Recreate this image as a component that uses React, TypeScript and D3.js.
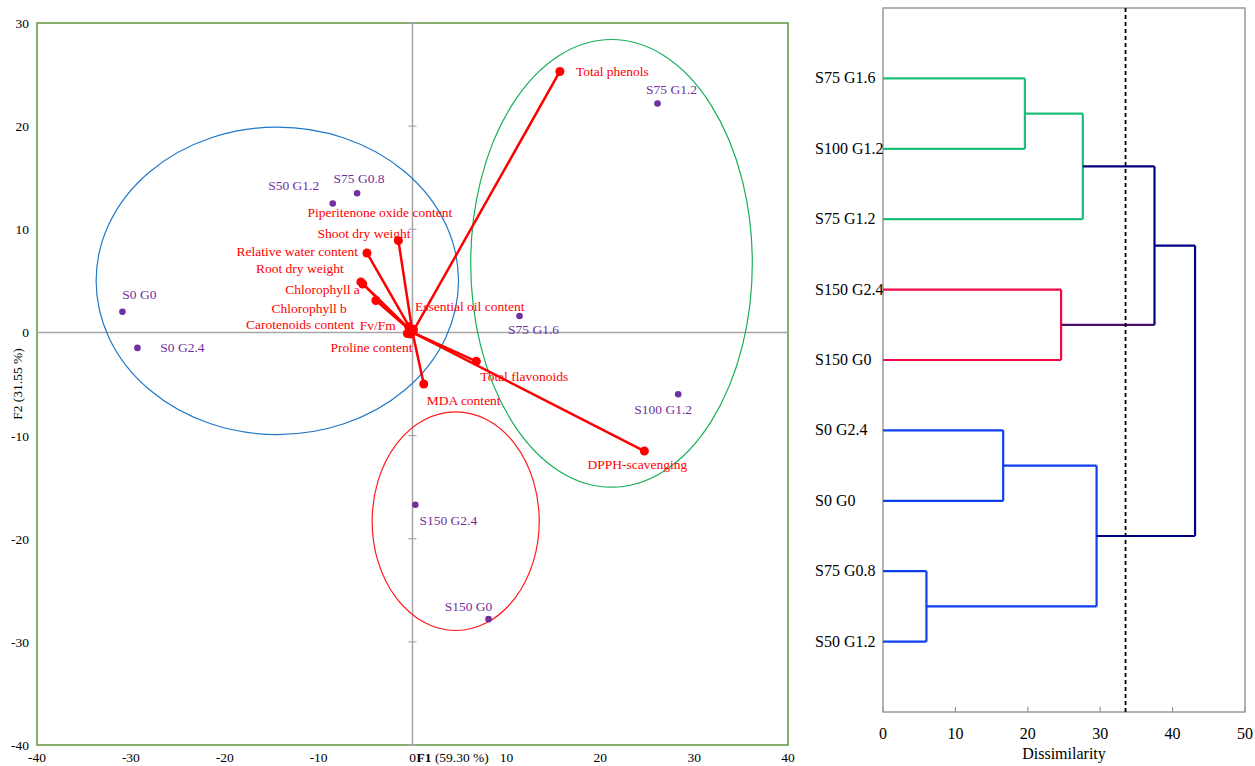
import React from "react";
import * as d3 from "d3";

// ---- Biplot data (F1 / F2 scores) ----
const obsNames = ["S75 G1.2", "S50 G1.2", "S75 G0.8", "S0 G0", "S0 G2.4", "S75 G1.6", "S100 G1.2", "S150 G2.4", "S150 G0"];
const obsF1 = [26.1, -8.5, -5.9, -30.9, -29.3, 11.4, 28.3, 0.3, 8.1];
const obsF2 = [22.2, 12.5, 13.5, 2.0, -1.5, 1.6, -6.0, -16.7, -27.8];

const varNames = [
  "Total phenols", "DPPH-scavenging", "Total flavonoids", "MDA content", "Shoot dry weight",
  "Relative water content", "Root dry weight", "Chlorophyll a", "Chlorophyll b",
  "Carotenoids content", "Fv/Fm", "Proline content", "Essential oil content", "Piperitenone oxide content",
];
const varF1 = [15.7, 24.7, 6.8, 1.2, -1.5, -4.85, -5.3, -5.5, -3.9, -0.55, -0.4, -0.2, 0.05, 0.1];
const varF2 = [25.3, -11.5, -2.8, -5.0, 8.9, 7.7, 4.7, 4.9, 3.1, -0.1, 0.55, -0.15, 0.1, 0.3];

// group ellipses (centre and radii in score units)
const ellCx = [-14.4, 21.2, 4.6];
const ellCy = [5.0, 6.7, -18.3];
const ellRx = [19.3, 15.0, 8.9];
const ellRy = [14.9, 21.7, 10.6];

const xTicks = [-40, -30, -20, -10, 0, 10, 20, 30, 40];
const yTicks = [30, 20, 10, 0, -10, -20, -30, -40];

// ---- Dendrogram data ----
const leafNames = ["S75 G1.6", "S100 G1.2", "S75 G1.2", "S150 G2.4", "S150 G0", "S0 G2.4", "S0 G0", "S75 G0.8", "S50 G1.2"];
// merges: [left node, right node, dissimilarity]; new node ids start at 9
const mergeLeft = [0, 9, 3, 5, 7, 12, 10, 15];
const mergeRight = [1, 2, 4, 6, 8, 13, 11, 14];
const mergeHeight = [19.6, 27.6, 24.6, 16.6, 6.0, 29.5, 37.5, 43.1];
const cutLevel = 33.5;
const dTicks = [0, 10, 20, 30, 40, 50];

// ---- layout / styles ----
const W = 1255, H = 766;
const FONT = "'Liberation Serif', 'Times New Roman', serif";
const PURPLE = "#7030a0";
const RED = "#ff0000";
const ellColors = ["#1f78c8", "#17b05a", "#ff1a1a"];

const GREEN = "#1dbf78";
const CRIMSON = "#ee0b45";
const BLUE = "#0b3ff0";
const NAVY = "#000080";
// colour of each node (leaves 0..8, merges 9..16)
const nodeColor = [GREEN, GREEN, GREEN, CRIMSON, CRIMSON, BLUE, BLUE, BLUE, BLUE, GREEN, GREEN, CRIMSON, BLUE, BLUE, BLUE, NAVY, NAVY];
// colour of the horizontal segment joining a node to its parent
const edgeColor = [GREEN, GREEN, GREEN, CRIMSON, CRIMSON, BLUE, BLUE, BLUE, BLUE, GREEN, NAVY, "#4a0d6a", BLUE, BLUE, NAVY, NAVY, NAVY];

// label placement (pixels from the marker; anchor)
const varLabelPos: Record<string, [number, number, string]> = {
  "Total phenols": [16, 5, "start"],
  "DPPH-scavenging": [-7, 18, "middle"],
  "Total flavonoids": [4, 20, "start"],
  "MDA content": [3, 21, "start"],
  "Shoot dry weight": [12, -3, "end"],
  "Relative water content": [-9, 3, "end"],
  "Root dry weight": [-19, -11, "end"],
  "Chlorophyll a": [-1, 12, "end"],
  "Chlorophyll b": [-29, 13, "end"],
  "Carotenoids content": [-53, -4, "end"],
  "Fv/Fm": [-13, 3, "end"],
  "Proline content": [2, 18, "end"],
  "Essential oil content": [2, -20, "start"],
  "Piperitenone oxide content": [-106, -112, "start"],
};
const obsLabelPos: Record<string, [number, number]> = {
  "S75 G1.2": [14, -9],
  "S50 G1.2": [-39, -14],
  "S75 G0.8": [2, -10],
  "S0 G0": [17, -13],
  "S0 G2.4": [45, 4],
  "S75 G1.6": [14, 18],
  "S100 G1.2": [-15, 20],
  "S150 G2.4": [33, 20],
  "S150 G0": [-20, -8],
};

function Biplot() {
  const x = d3.scaleLinear().domain([-40, 40]).range([37, 788]);
  const y = d3.scaleLinear().domain([-40, 30]).range([745, 23]);
  const x0 = x(0), y0 = y(0);
  const k = x(1) - x(0);
  const ky = y(0) - y(1);
  return (
    <g fontFamily={FONT}>
      {/* frame */}
      <rect x={x(-40)} y={y(30)} width={x(40) - x(-40)} height={y(-40) - y(30)} fill="none" stroke="#6b9a4a" strokeWidth={1.6} />
      {/* centre axes */}
      <line x1={x(-40)} x2={x(40)} y1={y0} y2={y0} stroke="#a6a6a6" strokeWidth={1.5} />
      <line x1={x0} x2={x0} y1={y(30)} y2={y(-40)} stroke="#a6a6a6" strokeWidth={1.5} />
      {yTicks.map((t) => (
        <line key={"yt" + t} x1={x0 - 4} x2={x0 + 4} y1={y(t)} y2={y(t)} stroke="#a6a6a6" strokeWidth={1.2} />
      ))}
      {/* tick labels */}
      {yTicks.map((t) => (
        <text key={"yl" + t} x={29} y={y(t) + 5} textAnchor="end" fontSize={13.5} fill="#000">{t}</text>
      ))}
      {xTicks.map((t) => (
        <text key={"xl" + t} x={x(t)} y={762} textAnchor="middle" fontSize={13.5} fill="#000">{t}</text>
      ))}
      <text x={x0 + 4} y={762} fontSize={13.5} fill="#000">
        <tspan fontWeight="bold">F1</tspan> (59.30 %)
      </text>
      <text transform={`translate(22,384) rotate(-90)`} textAnchor="middle" fontSize={13.5} fill="#000">
        F2 (31.55 %)
      </text>
      {/* ellipses */}
      {ellCx.map((c, i) => (
        <ellipse key={"e" + i} cx={x(c)} cy={y(ellCy[i])} rx={ellRx[i] * k} ry={ellRy[i] * ky} fill="none" stroke={ellColors[i]} strokeWidth={1.2} />
      ))}
      {/* variable vectors */}
      {varNames.map((n, i) => (
        <g key={"v" + n}>
          <line x1={x0} y1={y0} x2={x(varF1[i])} y2={y(varF2[i])} stroke={RED} strokeWidth={2.5} />
          <circle cx={x(varF1[i])} cy={y(varF2[i])} r={4.5} fill={RED} />
        </g>
      ))}
      {varNames.map((n, i) => {
        const p = varLabelPos[n];
        return (
          <text key={"vl" + n} x={x(varF1[i]) + p[0]} y={y(varF2[i]) + p[1]} textAnchor={p[2]} fontSize={13.5} fill={RED}>{n}</text>
        );
      })}
      {/* observations */}
      {obsNames.map((n, i) => (
        <circle key={"o" + n} cx={x(obsF1[i])} cy={y(obsF2[i])} r={3.3} fill={PURPLE} />
      ))}
      {obsNames.map((n, i) => {
        const p = obsLabelPos[n];
        return (
          <text key={"ol" + n} x={x(obsF1[i]) + p[0]} y={y(obsF2[i]) + p[1]} textAnchor="middle" fontSize={13.5} fill={PURPLE}>{n}</text>
        );
      })}
    </g>
  );
}

function Dendrogram() {
  const x = d3.scaleLinear().domain([0, 50]).range([883, 1245]);
  const y = d3.scaleLinear().domain([-1, leafNames.length]).range([8, 712]);
  // node positions: leaves on the zero line, merges at their dissimilarity
  const nx: number[] = leafNames.map(() => x(0));
  const ny: number[] = leafNames.map((_, i) => y(i));
  mergeHeight.forEach((h, j) => {
    const a = mergeLeft[j], b = mergeRight[j];
    nx.push(x(h));
    ny.push((ny[a] + ny[b]) / 2);
  });
  const segs: JSX.Element[] = [];
  mergeHeight.forEach((h, j) => {
    const id = leafNames.length + j;
    const a = mergeLeft[j], b = mergeRight[j];
    const px = x(h);
    [a, b].forEach((c) => {
      segs.push(<line key={`h${id}-${c}`} x1={nx[c]} x2={px} y1={ny[c]} y2={ny[c]} stroke={edgeColor[c]} strokeWidth={2.2} />);
    });
    segs.push(<line key={`v${id}`} x1={px} x2={px} y1={ny[a]} y2={ny[b]} stroke={nodeColor[id]} strokeWidth={2.2} />);
  });
  return (
    <g fontFamily={FONT}>
      <rect x={x(0)} y={8} width={x(50) - x(0)} height={704} fill="none" stroke="#9a9a9a" strokeWidth={1.5} />
      {dTicks.map((t) => (
        <g key={"dt" + t}>
          <line x1={x(t)} x2={x(t)} y1={707} y2={712} stroke="#9a9a9a" strokeWidth={1.2} />
          <text x={x(t)} y={739} textAnchor="middle" fontSize={16} fill="#000">{t}</text>
        </g>
      ))}
      <text x={(x(0) + x(50)) / 2} y={759} textAnchor="middle" fontSize={16} fill="#000">Dissimilarity</text>
      {leafNames.map((n, i) => (
        <text key={"ln" + n} x={815} y={y(i) + 5} fontSize={16} fill="#000">{n}</text>
      ))}
      {segs}
      <line x1={x(cutLevel)} x2={x(cutLevel)} y1={8} y2={712} stroke="#000" strokeWidth={1.8} strokeDasharray="4,3" />
    </g>
  );
}

export default function App() {
  return (
    <svg width={W} height={H} style={{ position: "absolute", left: 0, top: 0, background: "#fff" }}>
      <rect width={W} height={H} fill="#fff" />
      <Biplot />
      <Dendrogram />
    </svg>
  );
}
